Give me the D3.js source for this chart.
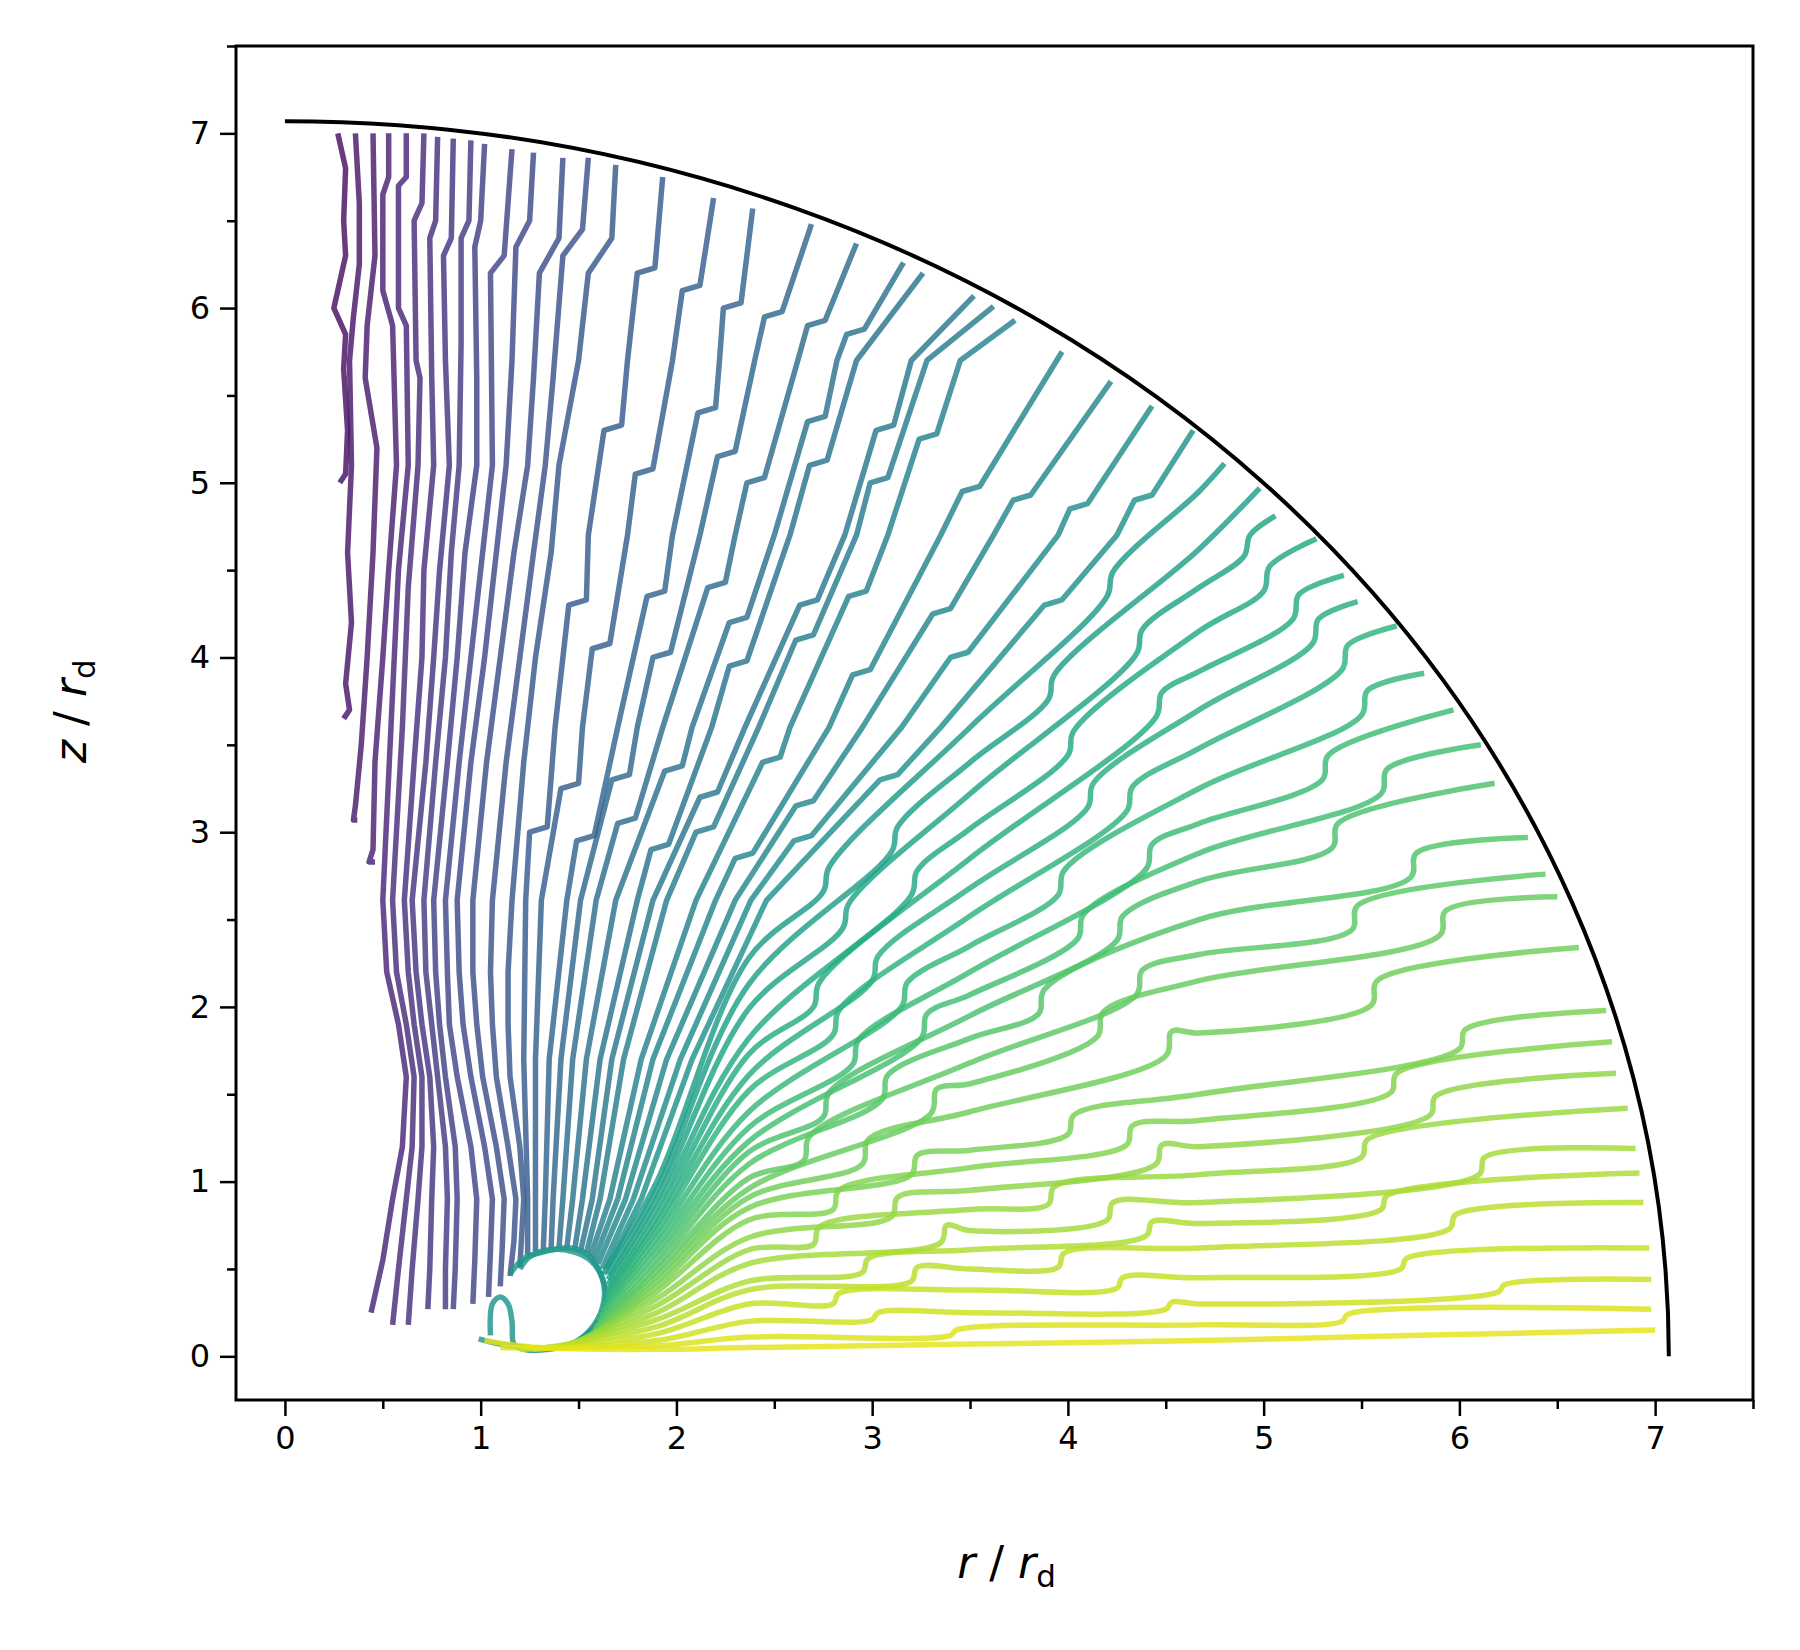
<!DOCTYPE html>
<meta charset="utf-8">
<style>
  body { margin: 0; background: #fff; }
  .tick text { font-family: "DejaVu Sans", sans-serif; font-size: 32px; fill: #000; }
  .label { font-family: "DejaVu Sans", sans-serif; font-size: 44px; fill: #000; }
</style>
<body>
<script src="https://d3js.org/d3.v7.min.js"></script>
<script>

// streamlines, each a list of [r, z] points (in units of r_d)

// short lines at the far left, hanging down from the top
var topLeftLines = [
  [[0.27,7.00],[0.31,6.80],[0.30,6.50],[0.31,6.30],[0.25,6.00],[0.31,5.85],[0.30,5.65],[0.32,5.30],[0.31,5.05],[0.28,5.00]],
  [[0.36,7.00],[0.38,6.60],[0.38,6.25],[0.35,5.95],[0.33,5.70],[0.34,5.10],[0.32,4.60],[0.34,4.20],[0.31,3.85],[0.33,3.70],[0.30,3.65]],
  [[0.45,7.00],[0.46,6.30],[0.42,5.90],[0.41,5.60],[0.47,5.20],[0.45,4.60],[0.42,4.00],[0.39,3.50],[0.36,3.15],[0.35,3.07],[0.37,3.07]],
  [[0.53,7.00],[0.53,6.75],[0.50,6.65],[0.50,6.10],[0.55,5.90],[0.57,5.10],[0.53,4.50],[0.50,4.00],[0.46,3.40],[0.45,2.90],[0.43,2.83],[0.46,2.83]]
];

// near-vertical bundle on the left
var leftBundleLines = [
  [[0.62,7.00],[0.62,6.75],[0.58,6.70],[0.58,6.00],[0.62,5.90],[0.63,5.10],[0.58,4.50],[0.55,3.80],[0.50,2.61],[0.52,2.20],[0.58,1.90],[0.62,1.60],[0.60,1.20],[0.55,0.90],[0.50,0.55],[0.44,0.25]],
  [[0.71,7.00],[0.70,6.60],[0.66,6.50],[0.67,5.70],[0.69,5.60],[0.68,5.10],[0.63,4.40],[0.60,3.60],[0.55,2.61],[0.57,2.20],[0.62,1.90],[0.66,1.60],[0.65,1.20],[0.62,0.90],[0.58,0.50],[0.55,0.18]],
  [[0.78,6.98],[0.77,6.50],[0.74,6.40],[0.75,5.60],[0.76,5.10],[0.71,4.50],[0.70,4.00],[0.66,3.40],[0.61,2.61],[0.63,2.20],[0.66,1.90],[0.70,1.60],[0.70,1.20],[0.68,0.90],[0.65,0.50],[0.63,0.18]],
  [[0.86,6.97],[0.85,6.40],[0.81,6.30],[0.82,5.70],[0.84,5.10],[0.79,4.50],[0.76,4.00],[0.72,3.40],[0.65,2.61],[0.67,2.20],[0.70,1.90],[0.74,1.60],[0.76,1.20],[0.75,0.90],[0.74,0.50],[0.73,0.27]],
  [[0.95,6.96],[0.94,6.50],[0.90,6.40],[0.90,5.80],[0.89,5.10],[0.85,4.60],[0.82,4.00],[0.77,3.40],[0.71,2.61],[0.72,2.20],[0.75,1.90],[0.78,1.60],[0.82,1.20],[0.83,0.90],[0.82,0.50],[0.82,0.27]],
  [[1.02,6.94],[1.00,6.50],[0.97,6.35],[0.98,5.60],[0.98,5.10],[0.92,4.60],[0.88,4.00],[0.83,3.40],[0.76,2.61],[0.77,2.20],[0.79,1.90],[0.82,1.60],[0.87,1.20],[0.88,0.90],[0.87,0.50],[0.86,0.27]],
  [[1.16,6.91],[1.12,6.30],[1.05,6.20],[1.06,5.10],[1.00,4.50],[0.95,4.00],[0.89,3.40],[0.82,2.61],[0.83,2.20],[0.84,1.90],[0.88,1.60],[0.95,1.20],[0.98,0.90],[0.97,0.55],[0.96,0.30]],
  [[1.27,6.89],[1.25,6.50],[1.18,6.35],[1.16,5.70],[1.13,5.10],[1.07,4.50],[1.02,4.00],[0.95,3.40],[0.88,2.61],[0.89,2.20],[0.91,1.90],[0.95,1.60],[1.02,1.20],[1.06,0.90],[1.05,0.60],[1.04,0.34]],
  [[1.42,6.86],[1.40,6.40],[1.30,6.20],[1.27,5.60],[1.24,5.10],[1.17,4.60],[1.10,4.00],[1.03,3.40],[0.96,2.61],[0.96,2.20],[0.98,1.90],[1.01,1.60],[1.08,1.20],[1.12,0.90],[1.11,0.62],[1.10,0.40]],
  [[1.55,6.86],[1.52,6.45],[1.42,6.30],[1.37,5.60],[1.33,5.10],[1.27,4.60],[1.20,4.00],[1.13,3.40],[1.06,2.61],[1.05,2.20],[1.06,1.90],[1.08,1.60],[1.14,1.20],[1.18,0.90],[1.17,0.66],[1.15,0.46]],
  [[1.69,6.82],[1.67,6.40],[1.55,6.20],[1.50,5.70],[1.40,5.10],[1.36,4.60],[1.28,4.00],[1.22,3.40],[1.16,2.61],[1.14,2.20],[1.14,1.90],[1.15,1.60],[1.20,1.20],[1.22,0.90],[1.21,0.70],[1.20,0.51]]
];

// lines rising from the top of the bubble to the upper part of the arc
var upperFanLines = [
  [[1.24,0.58],[1.24,0.90],[1.22,1.70],[1.23,2.61],[1.25,3.00],[1.34,3.03],[1.38,3.60],[1.45,4.30],[1.54,4.33],[1.55,4.70],[1.63,5.30],[1.72,5.33],[1.75,5.70],[1.80,6.20],[1.89,6.23],[1.93,6.75]],
  [[1.28,0.60],[1.28,0.90],[1.28,1.70],[1.31,2.61],[1.41,3.25],[1.50,3.28],[1.52,3.60],[1.57,4.05],[1.66,4.08],[1.75,4.70],[1.79,5.05],[1.88,5.08],[1.98,5.70],[2.03,6.10],[2.12,6.13],[2.19,6.63]],
  [[1.32,0.61],[1.33,0.90],[1.35,1.70],[1.44,2.61],[1.49,2.95],[1.58,2.98],[1.70,3.60],[1.85,4.35],[1.94,4.38],[1.98,4.70],[2.11,5.40],[2.20,5.43],[2.22,5.70],[2.24,6.00],[2.33,6.03],[2.39,6.57]],
  [[1.36,0.62],[1.37,0.90],[1.41,1.70],[1.51,2.61],[1.67,3.30],[1.76,3.33],[1.80,3.60],[1.88,4.00],[1.97,4.03],[2.12,4.70],[2.21,5.15],[2.30,5.18],[2.40,5.70],[2.45,5.95],[2.54,5.98],[2.69,6.48]],
  [[1.40,0.62],[1.42,0.90],[1.47,1.70],[1.59,2.61],[1.70,3.05],[1.79,3.08],[1.93,3.60],[2.16,4.40],[2.25,4.43],[2.30,4.70],[2.36,5.00],[2.45,5.03],[2.62,5.70],[2.67,5.90],[2.76,5.93],[2.92,6.37]],
  [[1.44,0.62],[1.47,0.90],[1.54,1.70],[1.69,2.61],[1.94,3.35],[2.03,3.38],[2.08,3.60],[2.27,4.20],[2.36,4.23],[2.50,4.70],[2.67,5.35],[2.76,5.38],[2.82,5.70],[2.87,5.85],[2.96,5.88],[3.16,6.26]],
  [[1.48,0.61],[1.52,0.90],[1.61,1.70],[1.80,2.61],[1.87,2.90],[1.96,2.93],[2.18,3.60],[2.27,3.95],[2.36,3.98],[2.58,4.70],[2.68,5.10],[2.77,5.13],[2.92,5.70],[3.26,6.20]],
  [[1.51,0.60],[1.57,0.90],[1.67,1.70],[1.88,2.61],[2.12,3.20],[2.21,3.23],[2.35,3.60],[2.63,4.30],[2.72,4.33],[2.86,4.70],[3.02,5.30],[3.11,5.33],[3.20,5.70],[3.52,6.07]],
  [[1.54,0.59],[1.61,0.90],[1.73,1.70],[1.95,2.61],[2.10,3.00],[2.19,3.03],[2.42,3.60],[2.61,4.10],[2.70,4.13],[2.92,4.70],[2.99,5.00],[3.08,5.03],[3.28,5.70],[3.62,6.01]],
  [[1.56,0.57],[1.66,0.90],[1.82,1.70],[2.10,2.61],[2.44,3.40],[2.53,3.43],[2.58,3.60],[2.88,4.35],[2.97,4.38],[3.08,4.70],[3.24,5.25],[3.33,5.28],[3.45,5.70],[3.73,5.93]],
  [[1.58,0.55],[1.70,0.90],[1.88,1.70],[2.20,2.61],[2.30,2.85],[2.39,2.88],[2.78,3.60],[2.90,3.90],[2.99,3.93],[3.35,4.70],[3.46,4.95],[3.55,4.98],[3.97,5.75]],
  [[1.60,0.53],[1.74,0.90],[1.95,1.70],[2.30,2.61],[2.61,3.15],[2.70,3.18],[2.95,3.60],[3.31,4.25],[3.40,4.28],[3.62,4.70],[3.72,4.90],[3.81,4.93],[4.22,5.58]],
  [[1.62,0.50],[1.78,0.90],[2.02,1.70],[2.38,2.61],[2.60,2.95],[2.69,2.98],[3.15,3.60],[3.40,4.00],[3.49,4.03],[3.95,4.70],[4.01,4.85],[4.10,4.88],[4.43,5.44]],
  [[1.63,0.47],[1.82,0.90],[2.08,1.70],[2.46,2.61],[3.04,3.30],[3.13,3.33],[3.35,3.60],[3.88,4.30],[3.97,4.33],[4.25,4.70],[4.34,4.90],[4.43,4.93],[4.64,5.30]]
];

// lines wrapping round the empty bubble near (1.4, 0.3)
var bubbleLines = [
  [[1.20,0.50],[1.25,0.57],[1.35,0.61],[1.47,0.60],[1.56,0.55],[1.62,0.45],[1.63,0.32],[1.58,0.18],[1.48,0.08],[1.35,0.04],[1.22,0.04],[1.17,0.07],[1.16,0.20],[1.14,0.30],[1.10,0.34],[1.06,0.30],[1.05,0.12]],
  [[1.15,0.47],[1.22,0.56],[1.33,0.60],[1.46,0.62],[1.55,0.58],[1.61,0.48],[1.64,0.35],[1.60,0.20],[1.50,0.09],[1.38,0.05],[1.25,0.05],[1.10,0.07],[0.99,0.10]]
];

// lines leaving the right side / bottom of the bubble towards the lower arc
var lowerFanLines = [
  [[1.64,0.50],[1.90,1.00],[2.37,2.28],[2.75,2.66],[2.78,2.80],[3.50,3.60],[4.20,4.35],[4.23,4.49],[4.67,4.95],[4.80,5.11]],
  [[1.65,0.47],[1.90,0.95],[2.37,2.13],[3.10,2.89],[3.13,3.03],[3.50,3.40],[3.90,3.76],[3.93,3.90],[4.67,4.62],[4.98,4.97]],
  [[1.65,0.44],[1.90,0.90],[2.37,1.99],[2.85,2.45],[2.88,2.59],[3.50,3.22],[4.35,4.02],[4.38,4.16],[4.67,4.40],[4.90,4.58],[4.93,4.70],[5.06,4.81]],
  [[1.65,0.41],[1.90,0.85],[2.37,1.82],[3.20,2.64],[3.23,2.78],[3.50,3.02],[4.00,3.44],[4.03,3.58],[4.67,4.15],[5.00,4.38],[5.03,4.52],[5.27,4.68]],
  [[1.65,0.38],[1.90,0.80],[2.37,1.73],[2.70,2.00],[2.73,2.14],[3.50,2.85],[4.45,3.66],[4.48,3.80],[4.67,3.92],[5.15,4.22],[5.18,4.36],[5.41,4.47]],
  [[1.64,0.35],[1.90,0.76],[2.37,1.61],[3.00,2.15],[3.03,2.29],[3.50,2.68],[4.10,3.14],[4.13,3.28],[4.67,3.70],[5.25,4.08],[5.28,4.22],[5.48,4.32]],
  [[1.64,0.32],[1.90,0.72],[2.37,1.52],[2.80,1.84],[2.83,1.98],[3.50,2.52],[4.30,3.12],[4.33,3.26],[4.67,3.48],[5.40,3.93],[5.43,4.07],[5.68,4.18]],
  [[1.63,0.29],[1.90,0.68],[2.37,1.40],[3.15,2.00],[3.18,2.14],[3.50,2.35],[3.95,2.64],[3.98,2.78],[4.67,3.25],[5.50,3.67],[5.53,3.81],[5.82,3.91]],
  [[1.62,0.26],[1.90,0.64],[2.37,1.31],[2.90,1.67],[2.93,1.81],[3.50,2.20],[4.40,2.79],[4.43,2.93],[4.67,3.05],[5.30,3.30],[5.33,3.44],[5.97,3.70]],
  [[1.61,0.23],[1.90,0.60],[2.37,1.23],[3.25,1.82],[3.28,1.96],[3.50,2.07],[4.05,2.39],[4.08,2.53],[4.67,2.88],[5.60,3.22],[5.63,3.36],[6.11,3.50]],
  [[1.60,0.20],[1.90,0.56],[2.37,1.17],[2.75,1.37],[2.78,1.51],[3.50,1.95],[4.25,2.38],[4.28,2.52],[4.67,2.72],[5.35,2.91],[5.38,3.05],[6.18,3.28]],
  [[1.59,0.17],[1.90,0.52],[2.37,1.10],[3.05,1.47],[3.08,1.61],[3.50,1.82],[3.85,1.96],[3.88,2.10],[4.67,2.50],[5.75,2.74],[5.78,2.88],[6.35,2.97]],
  [[1.58,0.15],[1.90,0.49],[2.37,1.02],[2.65,1.12],[2.68,1.26],[3.50,1.68],[4.35,2.07],[4.38,2.21],[4.67,2.30],[5.45,2.44],[5.48,2.58],[6.44,2.76]],
  [[1.57,0.13],[1.90,0.46],[2.37,0.96],[3.30,1.39],[3.33,1.53],[3.50,1.56],[4.15,1.83],[4.18,1.97],[4.67,2.15],[5.90,2.41],[5.93,2.55],[6.50,2.63]],
  [[1.56,0.11],[1.90,0.43],[2.37,0.91],[2.95,1.10],[2.98,1.24],[3.50,1.40],[4.50,1.72],[4.53,1.86],[4.67,1.85],[5.55,2.01],[5.58,2.15],[6.61,2.34]],
  [[1.55,0.10],[1.90,0.40],[2.37,0.85],[3.20,1.04],[3.23,1.15],[3.50,1.18],[4.00,1.27],[4.03,1.38],[4.67,1.50],[6.00,1.76],[6.03,1.87],[6.75,1.98]],
  [[1.52,0.09],[1.90,0.37],[2.37,0.78],[2.80,0.84],[2.83,0.95],[3.50,1.08],[4.30,1.21],[4.33,1.32],[4.67,1.35],[5.65,1.51],[5.68,1.62],[6.78,1.80]],
  [[1.49,0.08],[1.90,0.33],[2.37,0.68],[3.10,0.80],[3.13,0.91],[3.50,0.95],[4.45,1.10],[4.48,1.21],[4.67,1.20],[5.85,1.38],[5.88,1.49],[6.80,1.62]],
  [[1.46,0.07],[1.90,0.29],[2.37,0.61],[2.70,0.64],[2.73,0.74],[3.50,0.84],[3.90,0.87],[3.93,0.97],[4.67,1.04],[5.50,1.14],[5.53,1.24],[6.86,1.42]],
  [[1.42,0.06],[1.90,0.25],[2.37,0.53],[3.35,0.65],[3.38,0.75],[3.50,0.72],[4.20,0.78],[4.23,0.88],[4.67,0.88],[6.10,1.04],[6.13,1.14],[6.90,1.19]],
  [[1.38,0.05],[1.90,0.21],[2.37,0.43],[2.95,0.48],[2.98,0.56],[3.50,0.61],[4.40,0.69],[4.43,0.77],[4.67,0.76],[5.60,0.84],[5.63,0.92],[6.92,1.05]],
  [[1.33,0.05],[1.90,0.17],[2.37,0.38],[3.20,0.43],[3.23,0.51],[3.50,0.50],[3.95,0.51],[3.98,0.59],[4.67,0.62],[5.95,0.73],[5.98,0.81],[6.94,0.88]],
  [[1.27,0.04],[1.90,0.13],[2.37,0.30],[2.80,0.30],[2.83,0.36],[3.50,0.38],[4.25,0.39],[4.28,0.45],[4.67,0.45],[5.70,0.50],[5.73,0.56],[6.97,0.62]],
  [[1.20,0.04],[1.90,0.09],[2.37,0.20],[3.00,0.21],[3.03,0.25],[3.50,0.25],[4.50,0.27],[4.53,0.31],[4.67,0.30],[6.20,0.37],[6.23,0.41],[6.98,0.44]],
  [[1.10,0.05],[1.90,0.06],[2.37,0.11],[3.40,0.12],[3.43,0.15],[4.67,0.18],[5.40,0.20],[5.43,0.24],[6.98,0.27]],
  [[1.02,0.09],[1.30,0.05],[1.90,0.04],[2.37,0.05],[3.50,0.07],[4.67,0.09],[5.80,0.12],[7.00,0.15]]
];

var boundaryRadius = 7.07;
var majorTicks = [0, 1, 2, 3, 4, 5, 6, 7];
var minorTicks = [0.5, 1.5, 2.5, 3.5, 4.5, 5.5, 6.5, 7.5];

// plot geometry
var W = 1800, H = 1650;
var margin = { top: 46, right: 47, bottom: 250, left: 236 };
var width = W - margin.left - margin.right,
    height = H - margin.top - margin.bottom;

var x = d3.scaleLinear().domain([-0.25, 7.5]).range([0, width]);
var y = d3.scaleLinear().domain([-0.25, 7.5]).range([height, 0]);

var svg = d3.select("body").append("svg")
    .attr("width", W)
    .attr("height", H)
  .append("g")
    .attr("transform", "translate(" + margin.left + "," + margin.top + ")");

// all lines in colour order; the curved groups get a smooth interpolation
var groups = [
  { lines: topLeftLines, smooth: false },
  { lines: leftBundleLines, smooth: false },
  { lines: upperFanLines, smooth: false },
  { lines: bubbleLines, smooth: true },
  { lines: lowerFanLines, smooth: true }
];
var allLines = [];
groups.forEach(function (g) {
  g.lines.forEach(function (pts) { allLines.push({ pts: pts, smooth: g.smooth }); });
});
var n = allLines.length;
var colour = function (i) { return d3.interpolateViridis(0.04 + 0.92 * i / (n - 1)); };

var straight = d3.line()
    .x(function (d) { return x(d[0]); })
    .y(function (d) { return y(d[1]); });
var smooth = d3.line()
    .curve(d3.curveCatmullRom.alpha(0.5))
    .x(function (d) { return x(d[0]); })
    .y(function (d) { return y(d[1]); });

svg.selectAll(".stream")
    .data(allLines)
  .enter().append("path")
    .attr("class", "stream")
    .attr("d", function (d) { return d.smooth ? smooth(d.pts) : straight(d.pts); })
    .attr("fill", "none")
    .attr("stroke", function (d, i) { return colour(i); })
    .attr("stroke-opacity", 0.82)
    .attr("stroke-width", 5.5)
    .attr("stroke-linejoin", "round");

// outer boundary: quarter circle of radius boundaryRadius
var rx = x(boundaryRadius) - x(0), ry = y(0) - y(boundaryRadius);
svg.append("path")
    .attr("d", "M" + x(0) + "," + y(boundaryRadius) +
               " A" + rx + "," + ry + " 0 0 1 " + x(boundaryRadius) + "," + y(0))
    .attr("fill", "none")
    .attr("stroke", "#000")
    .attr("stroke-width", 4);

// frame
svg.append("rect")
    .attr("width", width)
    .attr("height", height)
    .attr("fill", "none")
    .attr("stroke", "#000")
    .attr("stroke-width", 3);

// axes
svg.append("g")
    .attr("transform", "translate(0," + height + ")")
    .call(d3.axisBottom(x).tickValues(majorTicks).tickFormat(d3.format("d")).tickSize(16).tickPadding(10));
svg.append("g")
    .attr("transform", "translate(0," + height + ")")
    .call(d3.axisBottom(x).tickValues(minorTicks).tickFormat("").tickSize(9));

svg.append("g")
    .call(d3.axisLeft(y).tickValues(majorTicks).tickFormat(d3.format("d")).tickSize(16).tickPadding(10));
svg.append("g")
    .call(d3.axisLeft(y).tickValues(minorTicks).tickFormat("").tickSize(9));

svg.selectAll(".domain").remove();
svg.selectAll(".tick line").attr("stroke", "#000").attr("stroke-width", 2.5);

// axis labels
var xl = svg.append("text")
    .attr("class", "label")
    .attr("x", width / 2 + 12)
    .attr("y", height + 178)
    .attr("text-anchor", "middle");
xl.append("tspan").attr("font-style", "italic").text("r");
xl.append("tspan").text(" / ");
xl.append("tspan").attr("font-style", "italic").text("r");
xl.append("tspan").attr("font-size", "31px").attr("dy", 9).text("d");

var yl = svg.append("text")
    .attr("class", "label")
    .attr("transform", "translate(" + (-150) + "," + (y(3.75) + 10) + ") rotate(-90)")
    .attr("text-anchor", "middle");
yl.append("tspan").attr("font-style", "italic").text("z");
yl.append("tspan").text(" / ");
yl.append("tspan").attr("font-style", "italic").text("r");
yl.append("tspan").attr("font-size", "31px").attr("dy", 9).text("d");

</script>
</body>
